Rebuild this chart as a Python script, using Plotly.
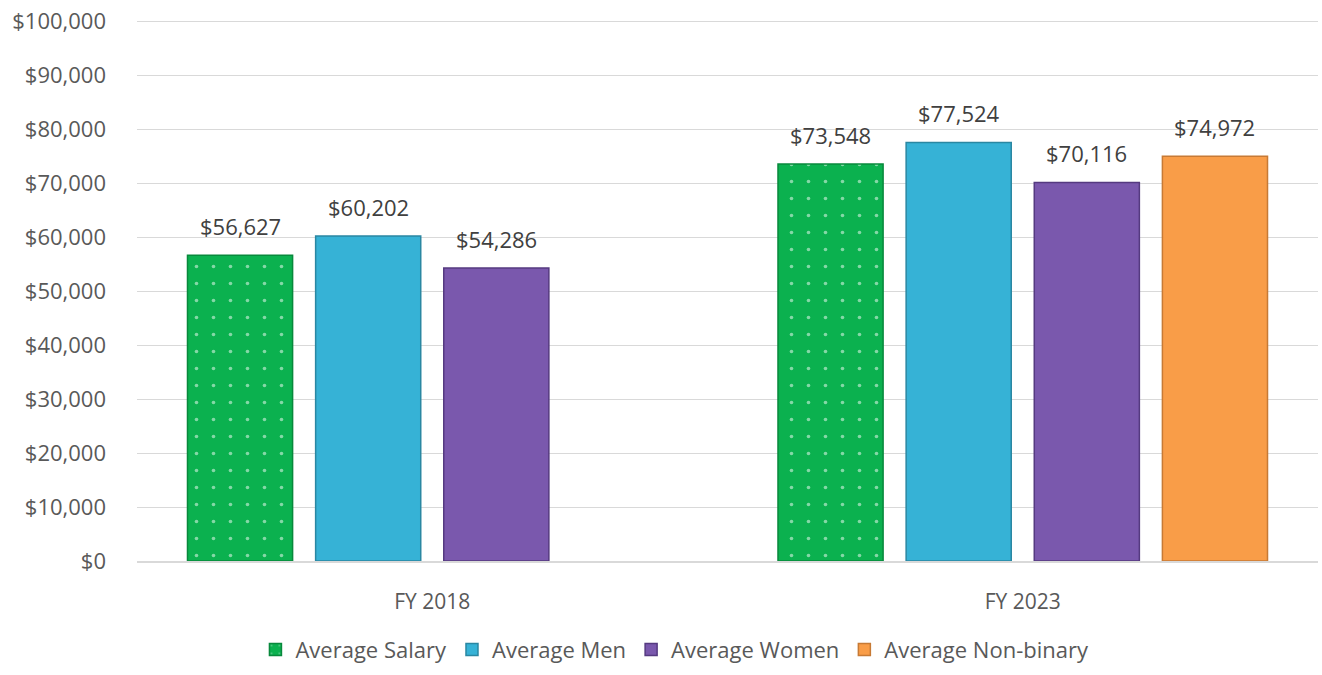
import plotly.graph_objects as go

categories = ["FY 2018", "FY 2023"]
series_names = ["Average Salary", "Average Men", "Average Women", "Average Non-binary"]
avg_salary = [56627, 73548]
avg_men = [60202, 77524]
avg_women = [54286, 70116]
avg_nonbinary = [None, 74972]
y_ticks = list(range(0, 100001, 10000))

colors = ["#0BB14F", "#36B2D6", "#7A58AD", "#F99D48"]
outlines = ["#08893C", "#2A87A2", "#553A80", "#C77A35"]
values = [avg_salary, avg_men, avg_women, avg_nonbinary]

# group layout in category units
slot = 0.217
bar_w = 0.178
group_start = -2 * slot

fig = go.Figure()
x_idx = list(range(len(categories)))
for i, (name, vals) in enumerate(zip(series_names, values)):
    marker = dict(color=colors[i], line=dict(color=outlines[i], width=1.5))
    if i == 0:
        marker["pattern"] = dict(shape=".", fgcolor="white", bgcolor=colors[i],
                                 size=17, solidity=0.035, fillmode="overlay")
    off = group_start + i * slot + (slot - bar_w) / 2
    fig.add_trace(go.Bar(
        name=name, x=x_idx, y=vals, marker=marker,
        width=bar_w, offset=off,
    ))
    for xi, v in zip(x_idx, vals):
        if v is None:
            continue
        fig.add_annotation(
            x=xi + off + bar_w / 2, y=v, xref="x", yref="y",
            text="$" + f"{v:,}", showarrow=False, yanchor="bottom", yshift=12,
            font=dict(size=22, color="#404040", family="Open Sans"),
        )

fig.update_layout(
    barmode="overlay",
    width=1322, height=675,
    margin=dict(l=137, r=4, t=20, b=107),
    plot_bgcolor="white", paper_bgcolor="white",
    font=dict(family="Open Sans", size=21, color="#595959"),
    legend=dict(orientation="h", x=0.4555, xanchor="center", y=-0.125, yanchor="top",
                font=dict(size=22, color="#595959"), itemwidth=30),
    showlegend=True,
)
fig.update_yaxes(range=[0, 100200], tickvals=y_ticks,
                 ticktext=["$" + f"{v:,}" for v in y_ticks],
                 showgrid=True, gridcolor="#D9D9D9", gridwidth=1.3,
                 zeroline=False, ticks="", ticklabelstandoff=30, automargin=False,
                 tickfont=dict(size=22, color="#595959"))
fig.update_xaxes(range=[-0.5, 1.5], tickvals=x_idx, ticktext=categories,
                 showline=True, linecolor="#D9D9D9", linewidth=2,
                 ticks="", ticklabelstandoff=21, automargin=False, showgrid=False,
                 tickfont=dict(size=21, color="#595959"))

fig.write_html("out.html", config={"displayModeBar": False},
               post_script="document.body.style.margin='0';")
